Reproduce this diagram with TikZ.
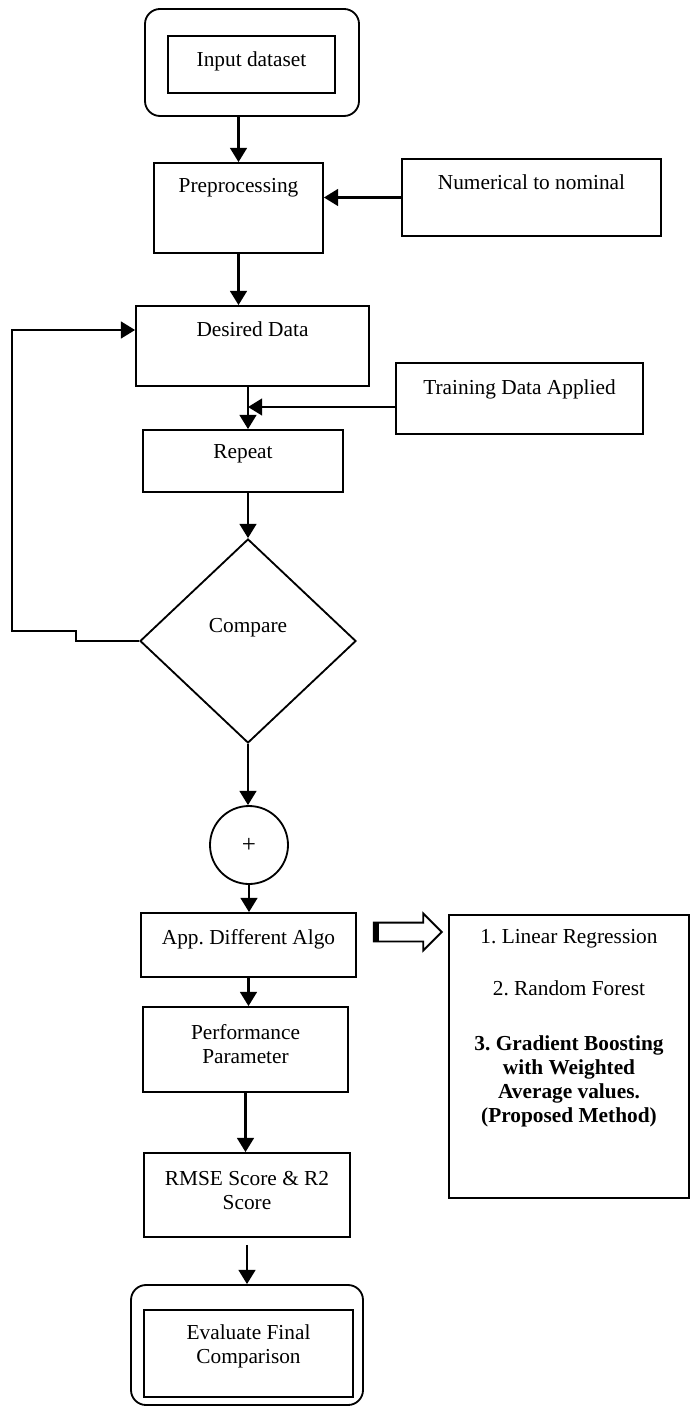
\documentclass[tikz,border=0pt]{standalone}
\usepackage{fontspec}
\setmainfont{Liberation Serif}
\usepackage{tikz}
\usetikzlibrary{positioning, shapes.geometric, shapes.arrows, arrows.meta, calc}
\tikzstyle{startstop} = [rectangle, rounded corners=9pt, draw=black, line width=1.1pt]
\tikzstyle{process} = [rectangle, draw=black, line width=1.1pt, inner sep=2pt]
\tikzstyle{decision} = [diamond, draw=black, line width=1.1pt, inner sep=0pt]
\tikzstyle{joint} = [circle, draw=black, line width=1.1pt, inner sep=0pt, minimum size=46.8pt]
\tikzstyle{bigarrow} = [single arrow, draw=black, line width=1.1pt, inner xsep=0pt, inner ysep=5.1pt, minimum height=40.8pt, single arrow head extend=5.4pt]
\tikzstyle{arrow} = [-{Triangle[width=10pt,length=8.5pt]}, line width=1.5pt]
\tikzstyle{every node}=[font=\fontsize{12.8}{14.4}\selectfont]
\frenchspacing

\begin{document}
\begin{tikzpicture}[x=0.6pt, y=-0.6pt, align=center]
  \useasboundingbox (0,0) rectangle (690,1407);
  % main column
  \node (startout) [startstop, minimum width=128.4pt, minimum height=64.2pt] at (252,62.5) {};
  \node (startin) [process, minimum width=100.2pt, minimum height=34.2pt, text depth=6.9pt] at (251.5,64.5) {Input dataset};
  \node (pre) [process, minimum width=101.4pt, minimum height=54pt, text depth=26.7pt] at (238.5,208) {Preprocessing};
  \node (desired) [process, minimum width=139.8pt, minimum height=48pt, text depth=20.7pt] at (252.5,346) {Desired Data};
  \node (repeat) [process, minimum width=120pt, minimum height=37.2pt, text depth=11.1pt] at (243,461) {Repeat};
  \node (cmp) [decision, minimum width=129.6pt, minimum height=122.4pt, text depth=18.3pt] at (248,641) {Compare};
  \node (plus) [joint, font=\fontsize{15}{15}\selectfont, text depth=0pt] at (249,845) {+};
  \node (app) [process, minimum width=129pt, minimum height=38.4pt, text depth=9.9pt] at (248.5,945) {App. Different Algo};
  \node (perf) [process, minimum width=123pt, minimum height=51pt, text depth=6.9pt] at (245.5,1049.5) {Performance\\Parameter};
  \node (rmse) [process, minimum width=123.6pt, minimum height=50.4pt, text depth=5.1pt] at (247,1195) {RMSE Score \& R2\\Score};
  \node (endout) [startstop, minimum width=139.2pt, minimum height=72pt] at (247,1345) {};
  \node (endin) [process, minimum width=125.4pt, minimum height=52.2pt, text depth=11.7pt] at (248.5,1353.5) {Evaluate Final\\Comparison};

  % side boxes
  \node (num) [process, minimum width=155.4pt, minimum height=46.2pt, text depth=18.9pt] at (531.5,197.5) {Numerical to nominal};
  \node (train) [process, minimum width=148.2pt, minimum height=42.6pt, text depth=14.1pt] at (519.5,398.5) {Training Data Applied};
  \node (harrow) [bigarrow] at (403,932) {};
  \node (algos) [process, minimum width=144pt, minimum height=169.8pt, text depth=36.3pt] at (569,1056.5) {1. Linear Regression\\[16.8pt]2. Random Forest\\[18.6pt]\textbf{3. Gradient Boosting}\\\textbf{with Weighted}\\\textbf{Average values.}\\\textbf{(Proposed Method)}};
  \fill (harrow.before tail) rectangle ([xshift=3.6pt]harrow.after tail);

  % connectors
  \coordinate (back) at (12,631);
  \coordinate (tin) at ([yshift=-5.1pt]train.west);
  \draw [arrow](startout.south -| pre.south) -- (pre.north);
  \draw [arrow](num.west) -- (num.west -| pre.east);
  \draw [arrow](pre.south) -- (pre.south |- desired.north);
  \draw [arrow](desired.south -| cmp.north) -- (repeat.north -| cmp.north);
  \draw [arrow](tin) -- (tin -| cmp.north);
  \draw [arrow](repeat.south -| cmp.north) -- (cmp.north);
  \draw [arrow](cmp.west) -- ++(-63,0) -- ++(0,-10) -- (back) |- ([yshift=9.6pt]desired.west);
  \draw [arrow](cmp.south) -- (cmp.south |- plus.north);
  \draw [arrow](plus.south) -- (plus.south |- app.north);
  \draw [arrow](app.south) -- (app.south |- perf.north);
  \draw [arrow](perf.south) -- (perf.south |- rmse.north);
  \draw [arrow]([yshift=-4.2pt]rmse.south) -- (endout.north);
\end{tikzpicture}
\end{document}
